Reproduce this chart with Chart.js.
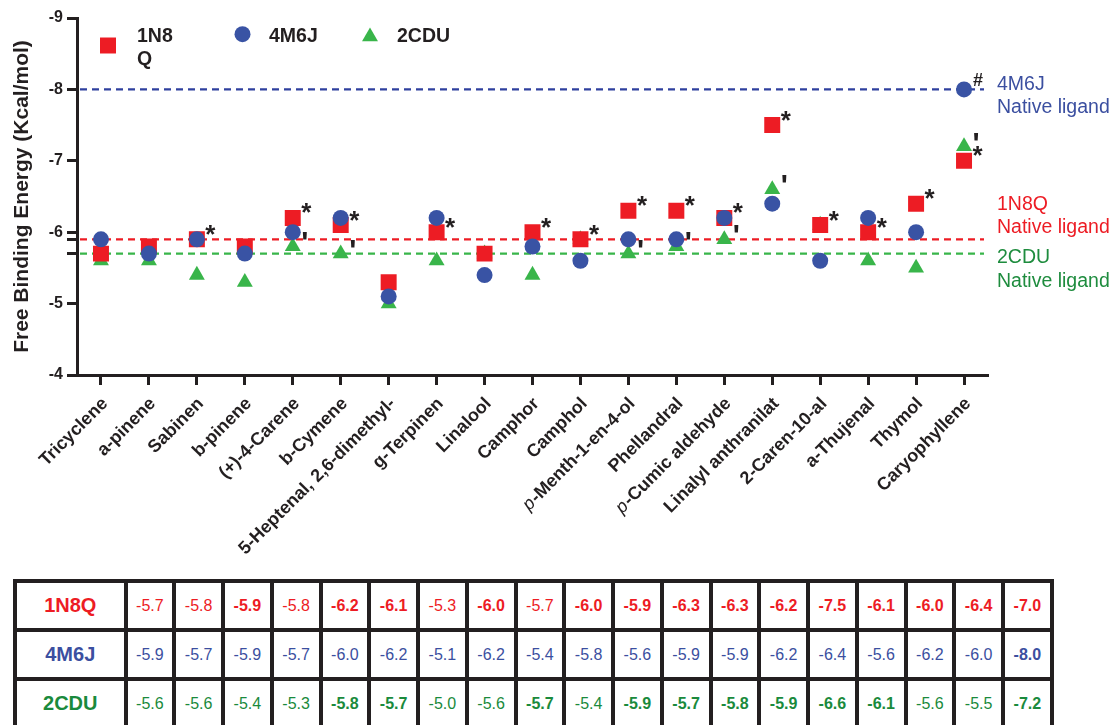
<!DOCTYPE html>
<html lang="en">
<head>
<meta charset="utf-8">
<title>Free binding energy</title>
<script src="https://cdn.jsdelivr.net/npm/chart.js@4/dist/chart.umd.min.js"></script>
<style>
  html, body { margin: 0; padding: 0; background: #fff; }
  body { width: 1118px; height: 725px; position: relative; overflow: hidden;
         font-family: "Liberation Sans", Arial, Helvetica, sans-serif; }
  #chartBox { position: absolute; left: 0; top: 0; }
  #valueTable { position: absolute; left: 13px; top: 579px; display: grid;
    grid-template-columns: 106.5px repeat(19, 44.76px); grid-auto-rows: 45px;
    gap: 4px; padding: 4px; background: #231f20; }
  #valueTable div { background: #fff; display: flex; align-items: center;
    justify-content: center; font-size: 16px; }
  #valueTable .head { font-size: 20px; font-weight: bold; }
  #valueTable .sig { font-weight: bold; }
</style>
</head>
<body>
<div id="chartBox"><canvas id="energyChart" width="1118" height="575"></canvas></div>
<div id="valueTable"></div>
<script>
// --- Data ---
const categories = ['Tricyclene', 'a-pinene', 'Sabinen', 'b-pinene', '(+)-4-Carene', 'b-Cymene',
    '5-Heptenal, 2,6-dimethyl-', 'g-Terpinen', 'Linalool', 'Camphor', 'Camphol', 'p-Menth-1-en-4-ol',
    'Phellandral', 'p-Cumic aldehyde', 'Linalyl anthranilat', '2-Caren-10-al', 'a-Thujenal', 'Thymol',
    'Caryophyllene'];
const seriesNames = ['1N8Q', '4M6J', '2CDU'];
const energy1N8Q = [-5.7, -5.8, -5.9, -5.8, -6.2, -6.1, -5.3, -6.0, -5.7, -6.0, -5.9, -6.3, -6.3, -6.2, -7.5, -6.1, -6.0, -6.4, -7.0];
const energy4M6J = [-5.9, -5.7, -5.9, -5.7, -6.0, -6.2, -5.1, -6.2, -5.4, -5.8, -5.6, -5.9, -5.9, -6.2, -6.4, -5.6, -6.2, -6.0, -8.0];
const energy2CDU = [-5.6, -5.6, -5.4, -5.3, -5.8, -5.7, -5.0, -5.6, -5.7, -5.4, -5.9, -5.7, -5.8, -5.9, -6.6, -6.1, -5.6, -5.5, -7.2];
const nativeLigand = [-5.9, -8.0, -5.7];   // 1N8Q, 4M6J, 2CDU

// bold cells of the table
const bold1N8Q = [0, 0, 1, 0, 1, 1, 0, 1, 0, 1, 1, 1, 1, 1, 1, 1, 1, 1, 1];
const bold4M6J = [0, 0, 0, 0, 0, 0, 0, 0, 0, 0, 0, 0, 0, 0, 0, 0, 0, 0, 1];
const bold2CDU = [0, 0, 0, 0, 1, 1, 0, 0, 1, 0, 1, 1, 1, 1, 1, 1, 0, 0, 1];

// marks written next to the points
const marks1N8Q = ['', '', '*', '', '*', '*', '', '*', '', '*', '*', '*', '*', '*', '*', '*', '*', '*', '*'];
const marks4M6J = ['', '', '', '', '', '', '', '', '', '', '', '', '', '', '', '', '', '', '#'];
const marks2CDU = ['', '', '', '', "'", "'", '', '', '', '', '', "'", "'", "'", "'", '', '', '', "'"];

const yTicks = [-9, -8, -7, -6, -5, -4];
const yExtraTicks = [-5.9, -5.7];

// --- Style ---
const FONT = '"Liberation Sans", Arial, Helvetica, sans-serif';
const INK = '#231f20';
const markerColors = ['#ED1C24', '#3953A4', '#39B54A'];
const lineColors = ['#ED1C24', '#2F409E', '#39B54A'];
const labelColors = ['#ED1C24', '#3B4FA0', '#1E8C3E'];
const tableColors = ['#ED1C24', '#3B4FA0', '#1A8A3C'];
const legendLines = [['1N8', 'Q'], ['4M6J'], ['2CDU']];

Chart.defaults.font.family = FONT;

function drawMarker(ctx, style, x, y, r, color) {
    ctx.fillStyle = color;
    ctx.beginPath();
    if (style === 'rect') {
        const s = Math.SQRT1_2 * r;
        ctx.rect(x - s, y - s, 2 * s, 2 * s);
    } else if (style === 'circle') {
        ctx.arc(x, y, r, 0, Math.PI * 2);
    } else {
        for (let k = 0; k < 3; k++) {
            const a = k * 2 * Math.PI / 3;
            ctx.lineTo(x + Math.sin(a) * r, y - Math.cos(a) * r);
        }
        ctx.closePath();
    }
    ctx.fill();
}

// put the ink centre of a glyph on (cx, cy)
function drawCentred(ctx, txt, cx, cy) {
    const m = ctx.measureText(txt);
    const x0 = cx - (m.actualBoundingBoxRight - m.actualBoundingBoxLeft) / 2;
    const y0 = cy + (m.actualBoundingBoxAscent - m.actualBoundingBoxDescent) / 2;
    ctx.fillText(txt, x0, y0);
}

const extras = {
    id: 'extras',
    beforeDatasetsDraw(chart) {
        const { ctx, chartArea, scales: { y } } = chart;
        ctx.save();
        ctx.lineWidth = 2.2;
        ctx.setLineDash([7, 5]);
        nativeLigand.forEach((v, i) => {
            const py = y.getPixelForValue(v);
            ctx.strokeStyle = lineColors[i];
            ctx.beginPath();
            ctx.moveTo(chartArea.left + 3, py);
            ctx.lineTo(chartArea.right - 4, py);
            ctx.stroke();
        });
        ctx.restore();
    },
    afterDatasetsDraw(chart) {
        const { ctx, chartArea, scales: { x, y } } = chart;
        ctx.save();
        ctx.fillStyle = INK;
        ctx.textAlign = 'left';
        ctx.textBaseline = 'alphabetic';

        // significance marks
        const allMarks = [marks1N8Q, marks4M6J, marks2CDU];
        const markFont = { '*': 'bold 26px ' + FONT, "'": 'bold 30px ' + FONT, '#': 'bold 18px ' + FONT };
        const markOff = { '*': [14, -9.5], "'": [12, -10], '#': [14, -9.5] };
        allMarks.forEach((marks, d) => {
            const meta = chart.getDatasetMeta(d);
            marks.forEach((m, i) => {
                if (!m) return;
                const pt = meta.data[i];
                ctx.font = markFont[m];
                ctx.fillStyle = INK;
                drawCentred(ctx, m, pt.x + markOff[m][0], pt.y + markOff[m][1]);
            });
        });

        // native ligand labels on the right
        const labelDy = [-29.5, 0.5, 9.4];
        ctx.font = '19.5px ' + FONT;
        nativeLigand.forEach((v, i) => {
            const py = y.getPixelForValue(v);
            ctx.fillStyle = labelColors[i];
            ctx.fillText(seriesNames[i], chartArea.right + 9, py + labelDy[i]);
            ctx.fillText('Native ligand', chartArea.right + 9, py + labelDy[i] + 23.5);
        });

        // legend
        const styles = ['rect', 'circle', 'triangle'];
        const mx = [108, 242.5, 370], my = [45.5, 34.2, 36.6], tx = [137, 269, 397];
        ctx.font = 'bold 19.5px ' + FONT;
        seriesNames.forEach((name, i) => {
            const ds = chart.data.datasets[i];
            drawMarker(ctx, styles[i], mx[i], my[i], ds.pointRadius, markerColors[i]);
            ctx.fillStyle = INK;
            legendLines[i].forEach((ln, k) => ctx.fillText(ln, tx[i], 42 + k * 22.5));
        });

        // category labels, rotated 45 degrees
        const bold = 'bold 18px ' + FONT, ital = 'italic 18px ' + FONT;
        ctx.fillStyle = INK;
        ctx.textAlign = 'right';
        ctx.textBaseline = 'middle';
        categories.forEach((lab, i) => {
            const px = x.getPixelForTick(i);
            ctx.save();
            ctx.translate(px + 4, chartArea.bottom + 26);
            ctx.rotate(-Math.PI / 4);
            if (lab.startsWith('p-')) {
                const rest = lab.slice(1);
                ctx.font = bold;
                ctx.fillText(rest, 0, 0);
                const w = ctx.measureText(rest).width;
                ctx.font = ital;
                ctx.fillText('p', -w - 1, 0);
            } else {
                ctx.font = bold;
                ctx.fillText(lab, 0, 0);
            }
            ctx.restore();
        });
        ctx.restore();
    }
};

const ctx = document.getElementById('energyChart').getContext('2d');
new Chart(ctx, {
    type: 'line',
    data: {
        labels: categories,
        datasets: [
            { label: seriesNames[0], data: energy1N8Q, pointStyle: 'rect', pointRadius: 11.3,
              backgroundColor: markerColors[0], borderWidth: 0, pointBorderWidth: 0, showLine: false, order: 2 },
            { label: seriesNames[1], data: energy4M6J, pointStyle: 'circle', pointRadius: 8,
              backgroundColor: markerColors[1], borderWidth: 0, pointBorderWidth: 0, showLine: false, order: 1 },
            { label: seriesNames[2], data: energy2CDU, pointStyle: 'triangle', pointRadius: 9.2,
              backgroundColor: markerColors[2], borderWidth: 0, pointBorderWidth: 0, showLine: false, order: 3 }
        ]
    },
    options: {
        responsive: false,
        animation: false,
        events: [],
        layout: { padding: { top: 18, right: 130, left: 0, bottom: 0 } },
        plugins: { legend: { display: false }, tooltip: { enabled: false } },
        scales: {
            x: {
                type: 'category',
                offset: true,
                afterFit: s => { s.height = 200; },
                ticks: { display: false, autoSkip: false },
                grid: { drawOnChartArea: false, offset: false, tickLength: 10, tickWidth: 3, tickColor: INK },
                border: { color: INK, width: 3 }
            },
            y: {
                reverse: true,
                min: -9,
                max: -4,
                afterBuildTicks: s => {
                    s.ticks = yTicks.concat(yExtraTicks).sort((a, b) => a - b).map(v => ({ value: v }));
                },
                afterFit: s => { s.width = 77; },
                ticks: {
                    autoSkip: false,
                    padding: 4,
                    color: INK,
                    font: { size: 16, weight: 'bold' },
                    callback: v => yTicks.includes(v) ? String(v) : ''
                },
                grid: { drawOnChartArea: false, tickLength: 10, tickWidth: 3, tickColor: INK },
                border: { color: INK, width: 3 },
                title: {
                    display: true,
                    text: 'Free Binding Energy (Kcal/mol)',
                    color: INK,
                    font: { size: 21, weight: 'bold' },
                    padding: { top: 10, bottom: 0 }
                }
            }
        }
    },
    plugins: [extras]
});

// --- Value table ---
const table = document.getElementById('valueTable');
const rows = [[energy1N8Q, bold1N8Q], [energy4M6J, bold4M6J], [energy2CDU, bold2CDU]];
rows.forEach(([vals, bold], r) => {
    const head = document.createElement('div');
    head.className = 'head';
    head.style.color = tableColors[r];
    head.textContent = seriesNames[r];
    table.appendChild(head);
    vals.forEach((v, i) => {
        const cell = document.createElement('div');
        if (bold[i]) cell.className = 'sig';
        cell.style.color = tableColors[r];
        cell.textContent = v.toFixed(1);
        table.appendChild(cell);
    });
});
</script>
</body>
</html>
